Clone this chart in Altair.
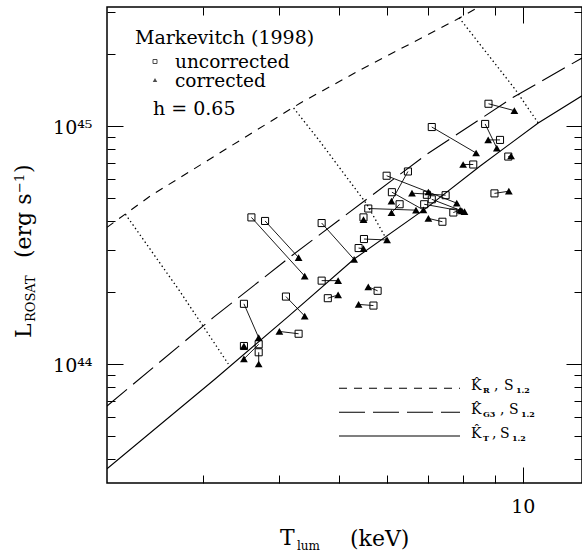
import altair as alt
import pandas as pd

FONT = "DejaVu Serif"

# ---------------- data (T in keV, L in units of 1e44 erg/s) ----------------
# model curves
kr_T = [2.09, 2.46, 4.33, 5.49, 7.80, 8.47]
kr_L = [3.75, 5.08, 12.5, 17.5, 28.0, 31.6]
kg3_T = [2.09, 3.12, 4.19, 5.56, 6.97, 9.65, 12.5]
kg3_L = [0.666, 1.57, 2.85, 4.93, 7.61, 13.2, 19.3]
kt_T = [2.09, 3.14, 4.12, 5.30, 6.97, 8.51, 10.6, 12.5]
kt_L = [0.363, 0.865, 1.57, 2.76, 4.54, 6.77, 10.3, 13.4]

# dotted connecting lines
dot1_T = [2.24, 2.75, 3.30]
dot1_L = [4.26, 2.02, 1.00]
dot2_T = [4.22, 4.63, 5.56, 6.00]
dot2_L = [11.9, 8.80, 4.69, 3.31]
dot3_T = [7.87, 9.71, 10.6]
dot3_L = [28.5, 14.3, 10.3]

# Markevitch (1998) clusters: uncorrected -> corrected
unc_T = [8.79, 7.10, 8.68, 9.18, 9.47, 8.30, 8.99,
         5.99, 6.49, 6.11, 6.29, 5.59, 7.48, 6.97, 7.10, 6.90, 7.70, 7.39,
         4.69, 5.49, 5.50, 5.39, 4.69, 4.80, 5.79, 5.70, 4.10, 3.60, 3.79, 3.50, 4.30, 3.50, 3.70, 3.70]
unc_L = [12.4, 9.90, 10.2, 8.74, 7.44, 6.89, 5.21,
         6.18, 6.44, 5.27, 4.69, 4.50, 5.12, 5.14, 4.92, 4.69, 4.33, 3.96,
         3.91, 4.13, 3.35, 3.07, 2.24, 1.89, 2.03, 1.76, 1.92, 4.13, 3.99, 1.79, 1.34, 1.19, 1.21, 1.12]
cor_T = [9.69, 8.39, 9.07, 8.78, 9.57, 7.99, 9.49,
         7.80, 6.10, 6.88, 6.10, 6.69, 6.59, 7.01, 7.95, 8.03, 7.90, 7.01,
         5.30, 5.49, 6.00, 5.49, 4.99, 4.99, 5.59, 5.39, 4.40, 4.40, 4.30, 3.70, 4.00, 3.50, 3.50, 3.70]
cor_L = [11.6, 7.70, 8.08, 8.74, 7.48, 6.89, 5.32,
         4.74, 4.83, 4.44, 4.32, 4.43, 5.22, 5.28, 4.40, 4.37, 4.43, 4.09,
         2.75, 4.04, 3.32, 3.05, 2.24, 1.95, 2.11, 1.78, 1.59, 2.34, 2.80, 1.29, 1.37, 1.19, 1.05, 1.00]

# ticks
x_major = [10]
x_minor = [3, 4, 5, 6, 7, 8, 9]
y_major = [1, 10]
y_minor = [0.4, 0.5, 0.6, 0.7, 0.8, 0.9, 2, 3, 4, 5, 6, 7, 8, 9, 20, 30]

# ---------------- layout ----------------
LEFT, TOP, W, H = 107, 7, 475, 476
xscale = alt.Scale(type="log", domain=[2.09, 12.5], nice=False)
yscale = alt.Scale(type="log", domain=[0.3162, 31.62], nice=False)


def X(field):
    return alt.X(field, type="quantitative", scale=xscale, axis=None)


def Y(field):
    return alt.Y(field, type="quantitative", scale=yscale, axis=None)


layers = []


def curve(T, L, dash=None, width=1.1):
    df = pd.DataFrame({"T": T, "L": L, "i": list(range(len(T)))})
    kw = dict(color="black", strokeWidth=width, clip=True)
    if dash is not None:
        kw["strokeDash"] = dash
    return alt.Chart(df).mark_line(**kw).encode(x=X("T"), y=Y("L"), order="i:Q")


layers.append(curve(kr_T, kr_L, [8, 7]))
layers.append(curve(kg3_T, kg3_L, [26, 8]))
layers.append(curve(kt_T, kt_L))
for dT, dL in [(dot1_T, dot1_L), (dot2_T, dot2_L), (dot3_T, dot3_L)]:
    layers.append(curve(dT, dL, [1.4, 2.8], width=1.3))

pairs = pd.DataFrame({"Tu": unc_T, "Lu": unc_L, "Tc": cor_T, "Lc": cor_L})
layers.append(alt.Chart(pairs).mark_rule(color="black", strokeWidth=0.9).encode(
    x=X("Tu"), x2="Tc:Q", y=Y("Lu"), y2="Lc:Q"))
layers.append(alt.Chart(pairs).mark_point(shape="square", filled=False, color="black",
                                           size=50, strokeWidth=1, opacity=1).encode(
    x=X("Tu"), y=Y("Lu")))
layers.append(alt.Chart(pairs).mark_point(shape="triangle-up", filled=True, color="black",
                                           size=60, opacity=1).encode(
    x=X("Tc"), y=Y("Lc")))

# ---------------- axes: inward ticks on all four sides ----------------
dummy = pd.DataFrame({"T": [5.0], "L": [3.0]})


def axis_layer(channel, orient, values, size, **extra):
    ax = dict(orient=orient, values=values, tickSize=size, offset=-size, domain=False,
              grid=False, labels=False, ticks=True, title=None, tickColor="black",
              tickWidth=1)
    ax.update(extra)
    base = alt.Chart(dummy).mark_point(opacity=0)
    if channel == "x":
        return base.encode(x=alt.X("T:Q", scale=xscale, axis=alt.Axis(**ax)), y=Y("L"))
    return base.encode(x=X("T"), y=alt.Y("L:Q", scale=yscale, axis=alt.Axis(**ax)))


layers.append(axis_layer("x", "bottom", x_major, 16, labels=True, labelExpr="'10'",
                         labelFont=FONT, labelFontSize=19, labelPadding=14,
                         labelColor="black"))
layers.append(axis_layer("x", "bottom", x_minor, 8))
layers.append(axis_layer("x", "top", x_major, 16))
layers.append(axis_layer("x", "top", x_minor, 8))
layers.append(axis_layer("y", "left", y_major, 16, labels=True,
                         labelExpr="datum.value < 5 ? '10\u2074\u2074' : '10\u2074\u2075'",
                         labelFont=FONT, labelFontSize=19, labelPadding=15,
                         labelColor="black", labelOffset=2))
layers.append(axis_layer("y", "left", y_minor, 8))
layers.append(axis_layer("y", "right", y_major, 16))
layers.append(axis_layer("y", "right", y_minor, 8))

# ---------------- annotations ----------------
one = pd.DataFrame({"s": [""]})


def txt(xa, ya, s, size, angle=0, weight="normal"):
    df = pd.DataFrame({"s": [s]})
    return alt.Chart(df).mark_text(align="left", baseline="alphabetic", font=FONT,
                                   fontSize=size, angle=angle, fontWeight=weight,
                                   color="black").encode(
        x=alt.value(xa - LEFT), y=alt.value(ya - TOP), text="s:N")


layers += [
    txt(135, 43.5, "Markevitch (1998)", 19),
    txt(175, 68, "uncorrected", 18.5),
    txt(175, 87, "corrected", 18.5),
    txt(153, 115, "h = 0.65", 19),
]
layers.append(alt.Chart(one).mark_point(shape="square", filled=False, color="black",
                                        size=16, strokeWidth=1).encode(
    x=alt.value(155 - LEFT), y=alt.value(61.5 - TOP)))
layers.append(alt.Chart(one).mark_point(shape="triangle-up", filled=True, color="black",
                                        size=20).encode(
    x=alt.value(155 - LEFT), y=alt.value(80 - TOP)))

# lower-right key
for yl, dash, sub, comma_x, s_x in [(388.3, [8, 7], "R", 494, 504),
                                     (412.3, [26, 8], "G3", 500, 509),
                                     (436.0, None, "T", 492, 500)]:
    kw = dict(color="black", strokeWidth=1.1)
    if dash is not None:
        kw["strokeDash"] = dash
    layers.append(alt.Chart(one).mark_rule(**kw).encode(
        x=alt.value(339 - LEFT), x2=alt.value(460 - LEFT), y=alt.value(yl - TOP)))
    layers.append(txt(471, yl + 2, "K\u0302", 14))
    layers.append(txt(483, yl + 5, sub, 8, weight="bold"))
    layers.append(txt(comma_x, yl + 2, ",", 14))
    layers.append(txt(s_x, yl + 2, "S", 14))
    layers.append(txt(s_x + 12, yl + 5, "1.2", 8, weight="bold"))

# axis titles
layers += [
    txt(280, 545, "T", 22),
    txt(297, 549.5, "lum", 12),
    txt(350, 546, "(keV)", 22),
    txt(31, 338, "L", 22, angle=270),
    txt(35, 322, "ROSAT", 13, angle=270),
    txt(31, 258, "(erg s", 22, angle=270),
    txt(24, 193, "\u22121", 13, angle=270),
    txt(31, 173, ")", 22, angle=270),
]

chart = alt.layer(*layers).resolve_axis(x="independent", y="independent").properties(
    width=W, height=H,
    padding={"left": LEFT, "top": TOP, "right": 0, "bottom": 552 - TOP - H},
    autosize=alt.AutoSizeParams(type="none"),
    background="white",
).configure_view(stroke="black", strokeWidth=1.5)

chart.save("out.html", embed_options={"renderer": "svg", "actions": False})
